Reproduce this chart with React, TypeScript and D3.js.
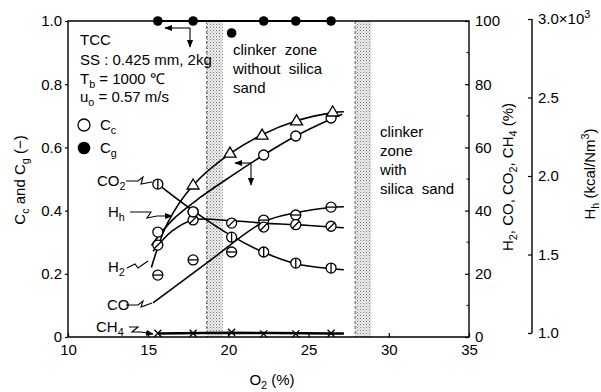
import { useEffect, useRef } from "react";
import * as d3 from "d3";

// axis ticks
const o2Ticks = [10, 15, 20, 25, 30, 35];
const cTicks = [0, 0.2, 0.4, 0.6, 0.8, 1.0];
const gasTicks = [0, 20, 40, 60, 80, 100];
const gasMinorTicks = [10, 30, 50, 70, 90];
const hhTicks = [1.0, 1.5, 2.0, 2.5, 3.0];

// clinker zones, O2 (%)
const clinkerZones = [
  [18.65, 19.65],
  [27.9, 28.9],
];

// Cg (filled circles), left axis
const cgPoints = [[15.6, 1.0], [17.8, 1.0], [22.2, 1.0], [24.2, 1.0], [26.4, 1.0]];
const cgExtra = [[20.2, 0.962]];

// Cc (open circles), left axis
const ccPoints = [[15.6, 0.332], [17.8, 0.396], [22.2, 0.576], [24.2, 0.636], [26.4, 0.693]];
const ccCurve = [[15.2, 0.29], [16.5, 0.37], [18.2, 0.44], [20.2, 0.51], [22.2, 0.576], [24.2, 0.636], [26.4, 0.69], [27.1, 0.705]];

// H2 (triangles), gas % axis
const h2Points = [[17.8, 48.1], [20.1, 58.2], [22.1, 63.9], [24.25, 68.4], [26.5, 71.2]];
const h2Curve = [[15.2, 22], [16.2, 36], [17.8, 48], [20.1, 58], [22.1, 64], [24.25, 68.4], [26.5, 71], [27.2, 71.3]];

// CO2 (vertical bar circles), gas % axis
const co2Points = [[15.6, 48.4], [17.8, 39.6], [20.2, 31.6], [22.2, 26.9], [24.2, 23.4], [26.4, 21.8]];
const co2Curve = [[15.6, 48.4], [17.8, 40], [20.2, 32], [22.2, 26.8], [24.2, 23.2], [26.4, 21.6], [27.2, 21.3]];

// CO (horizontal bar circles), gas % axis
const coPoints = [[15.6, 19.6], [17.8, 24.4], [20.2, 26.9], [22.2, 37.0], [24.2, 38.6], [26.4, 41.1]];
const coCurve = [[15.3, 10.8], [18.7, 23.6], [22.2, 36.4], [24.2, 39.3], [26.4, 41.0], [27.2, 41.2]];

// CH4 (crosses), gas % axis
const ch4Points = [[15.6, 1.2], [17.8, 1.2], [20.2, 1.5], [22.2, 1.0], [24.2, 1.0], [26.4, 1.2]];
const ch4Curve = [[15.6, 1.1], [20.2, 1.3], [26.4, 1.1], [27.2, 1.1]];

// Hh (slashed circles), kcal/Nm3 x10^3 axis
const hhPoints = [[15.6, 1.56], [17.8, 1.72], [20.2, 1.70], [22.2, 1.675], [24.2, 1.69], [26.4, 1.68]];
const hhCurve = [[15.3, 1.52], [16.5, 1.65], [17.8, 1.72], [20.2, 1.715], [22.2, 1.70], [24.2, 1.69], [26.4, 1.675], [27.2, 1.67]];

const FONT = "'Liberation Sans Narrow', 'Liberation Sans', Arial, sans-serif";

// text with sub/superscripts
function rich(text, parts) {
  let shift = 0;
  parts.forEach(([t, k]) => {
    const target = k === "sub" ? 4 : k === "sup" ? -6 : 0;
    const ts = text.append("tspan").attr("dy", target - shift).text(t);
    if (k) ts.attr("font-size", "0.72em");
    shift = target;
  });
}

function marker(g, type, cx, cy, r = 5) {
  if (type === "tri") {
    g.append("path")
      .attr("d", `M${cx},${cy - 6} L${cx + 6},${cy + 4} L${cx - 6},${cy + 4} Z`)
      .attr("fill", "#fff").attr("stroke", "#000").attr("stroke-width", 1.3);
    return;
  }
  if (type === "cross") {
    g.append("path")
      .attr("d", `M${cx - 3.5},${cy - 3.5} L${cx + 3.5},${cy + 3.5} M${cx - 3.5},${cy + 3.5} L${cx + 3.5},${cy - 3.5}`)
      .attr("stroke", "#000").attr("stroke-width", 1.3);
    return;
  }
  if (type === "filled") {
    g.append("circle").attr("cx", cx).attr("cy", cy).attr("r", r - 0.2).attr("fill", "#000");
    return;
  }
  g.append("circle").attr("cx", cx).attr("cy", cy).attr("r", r)
    .attr("fill", "#fff").attr("stroke", "#000").attr("stroke-width", 1.3);
  let d = null;
  if (type === "slash") d = `M${cx - 3.5},${cy + 3.5} L${cx + 3.5},${cy - 3.5}`;
  if (type === "vbar") d = `M${cx},${cy - r} L${cx},${cy + r}`;
  if (type === "hbar") d = `M${cx - r},${cy} L${cx + r},${cy}`;
  if (d) g.append("path").attr("d", d).attr("stroke", "#000").attr("stroke-width", 1.3);
}

const App = () => {
  const svgRef = useRef(null);

  useEffect(() => {
    const svg = d3.select(svgRef.current);
    svg.selectAll("*").remove();

    const x = d3.scaleLinear().domain([10, 35]).range([68, 469]);
    const yL = d3.scaleLinear().domain([0, 1]).range([337, 21]);
    const yR = d3.scaleLinear().domain([0, 100]).range([337, 21]);
    const yH = d3.scaleLinear().domain([1, 3]).range([333, 19]);

    const defs = svg.append("defs");
    const pat = defs.append("pattern").attr("id", "stipple")
      .attr("patternUnits", "userSpaceOnUse").attr("width", 3).attr("height", 3);
    pat.append("rect").attr("width", 3).attr("height", 3).attr("fill", "#ececec");
    pat.append("rect").attr("width", 1).attr("height", 1).attr("fill", "#7a7a7a");
    pat.append("rect").attr("x", 1.5).attr("y", 1.5).attr("width", 1).attr("height", 1).attr("fill", "#a8a8a8");
    defs.append("marker").attr("id", "arr").attr("viewBox", "0 0 10 10")
      .attr("refX", 9).attr("refY", 5).attr("markerWidth", 7).attr("markerHeight", 7)
      .attr("orient", "auto-start-reverse")
      .append("path").attr("d", "M0,1 L10,5 L0,9 Z").attr("fill", "#000");

    // clinker zones
    clinkerZones.forEach(([a, b]) => {
      svg.append("rect").attr("x", x(a)).attr("y", yL(1)).attr("width", x(b) - x(a))
        .attr("height", yL(0) - yL(1)).attr("fill", "url(#stipple)");
      svg.append("line").attr("x1", x(a)).attr("x2", x(a)).attr("y1", yL(1)).attr("y2", yL(0))
        .attr("stroke", "#333").attr("stroke-dasharray", "3,2").attr("stroke-width", 0.8);
    });

    // frame
    svg.append("path")
      .attr("d", `M${x(10)},${yL(0)} L${x(10)},${yL(1)} L${x(35)},${yL(1)} L${x(35)},${yL(0)} Z`)
      .attr("fill", "none").attr("stroke", "#000").attr("stroke-width", 1.4);

    const styleAxis = (g) => {
      g.select(".domain").remove();
      g.selectAll("line").attr("stroke", "#000").attr("stroke-width", 1.2);
      g.selectAll("text").attr("font-family", FONT).attr("font-size", 15).attr("fill", "#000");
    };

    svg.append("g").attr("transform", `translate(${x(10)},0)`)
      .call(d3.axisLeft(yL).tickValues(cTicks).tickSize(3).tickPadding(3)
        .tickFormat((d) => (d === 0 ? "0" : d3.format(".1f")(d))))
      .call(styleAxis);

    svg.append("g").attr("transform", `translate(0,${yL(0)})`)
      .call(d3.axisBottom(x).tickValues(o2Ticks).tickSize(-4).tickPadding(7))
      .call(styleAxis);

    svg.append("g").attr("transform", `translate(${x(35)},0)`)
      .call(d3.axisRight(yR).tickValues(gasTicks).tickSize(-4).tickPadding(6))
      .call(styleAxis);
    svg.append("g").attr("transform", `translate(${x(35)},0)`)
      .selectAll("line").data(gasMinorTicks).join("line")
      .attr("x1", -2.5).attr("x2", 0).attr("y1", (d) => yR(d)).attr("y2", (d) => yR(d))
      .attr("stroke", "#000");

    const hx = 532;
    svg.append("line").attr("x1", hx).attr("x2", hx).attr("y1", yH(3)).attr("y2", yH(1))
      .attr("stroke", "#000").attr("stroke-width", 1.4);
    svg.append("g").attr("transform", `translate(${hx},0)`)
      .call(d3.axisRight(yH).tickValues(hhTicks).tickSize(-4).tickPadding(6)
        .tickFormat((d) => (d === 3 ? "" : d3.format(".1f")(d))))
      .call(styleAxis);
    const topLab = svg.append("text").attr("x", hx + 6).attr("y", yH(3) + 5)
      .attr("font-family", FONT).attr("font-size", 15);
    rich(topLab, [["3.0×10", null], ["3", "sup"]]);

    // curves
    const line = (ys) => d3.line().x((d) => x(d[0])).y((d) => ys(d[1])).curve(d3.curveCatmullRom.alpha(0.5));
    const curves = [
      [ccCurve, yL], [h2Curve, yR], [co2Curve, yR], [coCurve, yR], [hhCurve, yH],
    ];
    curves.forEach(([c, ys]) => {
      svg.append("path").attr("d", line(ys)(c)).attr("fill", "none")
        .attr("stroke", "#000").attr("stroke-width", 1.6);
    });
    svg.append("path").attr("d", line(yR)(ch4Curve)).attr("fill", "none")
      .attr("stroke", "#000").attr("stroke-width", 2.6);
    svg.append("line").attr("x1", x(cgPoints[0][0])).attr("x2", x(cgPoints[cgPoints.length - 1][0]))
      .attr("y1", yL(1)).attr("y2", yL(1)).attr("stroke", "#000").attr("stroke-width", 2);

    // markers
    const mg = svg.append("g");
    const series = [
      [coPoints, yR, "hbar"], [hhPoints, yH, "slash"], [co2Points, yR, "vbar"],
      [ccPoints, yL, "open"], [h2Points, yR, "tri"], [ch4Points, yR, "cross"],
      [cgPoints, yL, "filled"], [cgExtra, yL, "filled"],
    ];
    series.forEach(([pts, ys, t]) => pts.forEach((p) => marker(mg, t, x(p[0]), ys(p[1]))));

    // axis arrows
    const arrow = (x1, y1, x2, y2) =>
      svg.append("line").attr("x1", x1).attr("y1", y1).attr("x2", x2).attr("y2", y2)
        .attr("stroke", "#000").attr("stroke-width", 1.1).attr("marker-end", "url(#arr)");
    arrow(190, 28, 165, 28); arrow(190, 28, 190, 47);
    arrow(251, 163, 235, 163); arrow(251, 163, 251, 185);

    // text block
    const t = (xx, yy, parts, size = 15) => {
      const el = svg.append("text").attr("x", xx).attr("y", yy)
        .attr("font-family", FONT).attr("font-size", size).attr("fill", "#000")
        .style("white-space", "pre");
      rich(el, parts);
      return el;
    };
    t(80, 45, [["TCC", null]]);
    t(80, 65, [["SS : 0.425 mm, 2kg", null]]);
    t(80, 84, [["T", null], ["b", "sub"], [" = 1000 ℃", null]]);
    t(80, 102, [["u", null], ["o", "sub"], [" = 0.57 m/s", null]]);
    marker(svg, "open", 84, 125, 6);
    t(100, 130, [["C", null], ["c", "sub"]]);
    marker(svg, "filled", 84, 148, 6.5);
    t(100, 153, [["C", null], ["g", "sub"]]);

    t(233, 55, [["clinker  zone", null]]);
    t(233, 74, [["without  silica", null]]);
    t(233, 93, [["sand", null]]);
    t(380, 137, [["clinker", null]]);
    t(380, 156, [["zone", null]]);
    t(380, 175, [["with", null]]);
    t(380, 194, [["silica  sand", null]]);

    // series labels with zigzag leaders
    t(97, 186, [["CO", null], ["2", "sub"]]);
    t(108, 217, [["H", null], ["h", "sub"]]);
    t(108, 272, [["H", null], ["2", "sub"]]);
    t(107, 310, [["CO", null]]);
    t(96, 332, [["CH", null], ["4", "sub"]]);
    const lead = (d, arrowEnd) => {
      const p = svg.append("path").attr("d", d).attr("fill", "none")
        .attr("stroke", "#000").attr("stroke-width", 1.1);
      if (arrowEnd) p.attr("marker-end", "url(#arr)");
    };
    lead("M126,181 L138,181 L143,177 L141,184 L152,182", false);
    lead("M130,212 L151,212 L147,218 L157,216 L172,216", true);
    lead("M127,268 L135,264 L138,268 L148,261", false);
    lead("M126,305 L138,305 L143,301 L141,307 L152,303", false);
    lead("M129,327 L138,327 L132,332 L141,332 L153,334", true);

    // axis titles
    const lt = t(25, 180, [["C", null], ["c", "sub"], [" and C", null], ["g", "sub"], [" (−)", null]]);
    lt.attr("text-anchor", "middle").attr("transform", "rotate(-90,25,180)");
    const rt = t(513, 177, [["H", null], ["2", "sub"], [", CO, CO", null], ["2", "sub"], [", CH", null], ["4", "sub"], [" (%)", null]]);
    rt.attr("text-anchor", "middle").attr("transform", "rotate(-90,513,177)");
    const ht = t(595, 174, [["H", null], ["h", "sub"], [" (kcal/Nm", null], ["3", "sup"], [")", null]]);
    ht.attr("text-anchor", "middle").attr("transform", "rotate(-90,595,174)");
    const bt = t(272, 385, [["O", null], ["2", "sub"], [" (%)", null]]);
    bt.attr("text-anchor", "middle");
  }, []);

  return (
    <div style={{ position: "absolute", left: 0, top: 0 }}>
      <svg ref={svgRef} width={601} height={392} style={{ display: "block", background: "#fff" }} />
    </div>
  );
};

export default App;
